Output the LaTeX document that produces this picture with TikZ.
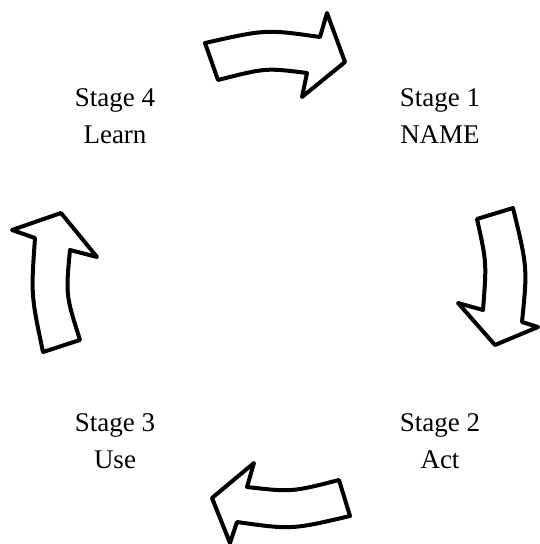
\documentclass[tikz,border=0pt]{standalone}
\usepackage{fontspec}
\setmainfont{Liberation Serif}
\begin{document}
\begin{tikzpicture}[x=1pt, y=-1pt,
  blockarrow/.style={draw=black, fill=white, line width=4pt, line join=round},
  stagelabel/.style={align=center, font=\fontsize{27}{37}\selectfont, inner sep=0pt}]
  \useasboundingbox (0,0) rectangle (539,544);

  % stage labels
  \node[stagelabel] (s4) at (115,116) {Stage 4\\Learn};
  \node[stagelabel] (s1) at (440,116) {Stage 1\\NAME};
  \node[stagelabel] (s3) at (115,441) {Stage 3\\Use};
  \node[stagelabel] (s2) at (440,441) {Stage 2\\Act};

  % top arrow: Stage 4 -> Stage 1
  \draw[blockarrow] (205,43) .. controls (265.8,29.3) .. (320,37)
    -- (327,13) -- (345,62) -- (302,97) -- (307,73)
    .. controls (265.8,67.8) .. (218,80) -- cycle;

  % right arrow: Stage 1 -> Stage 2
  \draw[blockarrow] (477,219) -- (513,208)
    .. controls (527.5,267.7) .. (522,322)
    -- (538,327) -- (495,345) -- (458,303) -- (483,310)
    .. controls (486.7,262.5) .. (477,219) -- cycle;

  % bottom arrow: Stage 2 -> Stage 3
  \draw[blockarrow] (339,480) .. controls (291.7,492.1) .. (247,487)
    -- (254,463) -- (212,498) -- (230,543) -- (237,522)
    .. controls (291.5,529.7) .. (350,516) -- cycle;

  % left arrow: Stage 3 -> Stage 4
  \draw[blockarrow] (43,352) -- (80,340)
    .. controls (65.7,295) .. (70,250)
    -- (97,257) -- (61,213) -- (12,230) -- (35,238)
    .. controls (31,295) .. (43,352) -- cycle;
\end{tikzpicture}
\end{document}
